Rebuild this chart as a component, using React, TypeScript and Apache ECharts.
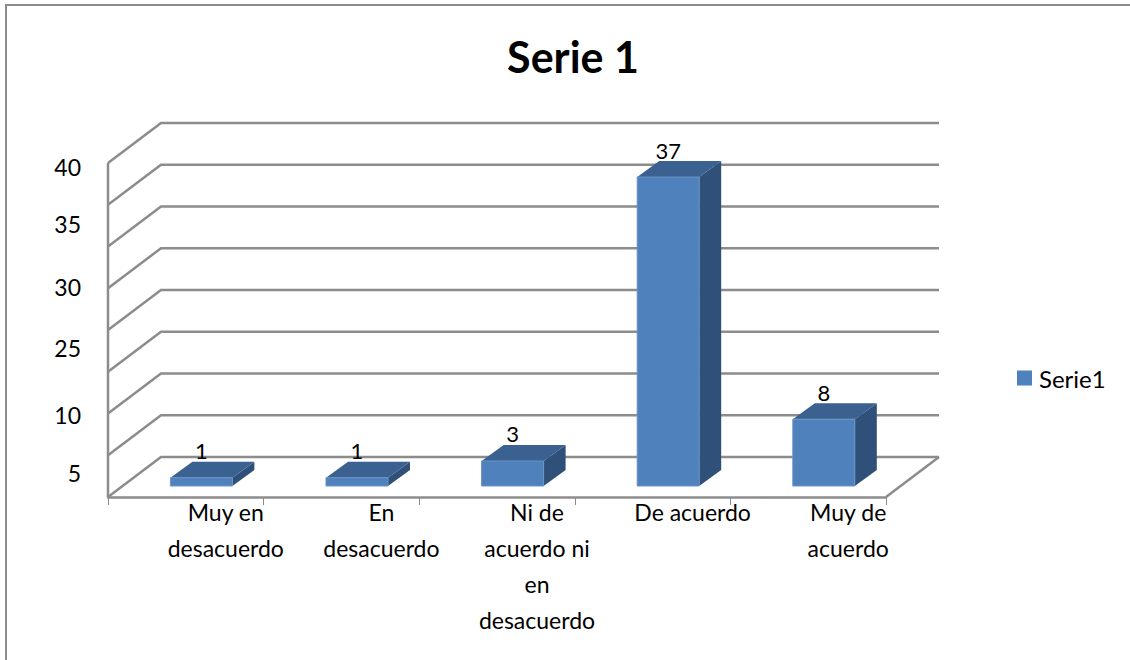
import React, { useEffect, useRef } from "react";
import * as echarts from "echarts";

const categories = ["Muy en\ndesacuerdo", "En\ndesacuerdo", "Ni de\nacuerdo ni\nen\ndesacuerdo", "De acuerdo", "Muy de\nacuerdo"];
const seriesName = "Serie1";
const values = [1, 1, 3, 37, 8];
const gridValues = [0, 5, 10, 15, 20, 25, 30, 35, 40];
// The source chart prints these tick labels at these (irregular) value heights.
const tickLabels = ["5", "10", "25", "30", "35", "40"];
const tickLabelHeights = [2.9, 9.8, 17.8, 25.1, 32.7, 39.5];

const GRAY = "#8c8c8c";
const FONT = "Lato, 'Open Sans', sans-serif";
const FLOOR_DX = 53;
const FLOOR_DY = -40;
const BAR_DX = 15.6;
const BAR_DY = -11;
const DEPTH_DX = 22;
const DEPTH_DY = -16;
const BAR_W = 62;

export default function App() {
  const ref = useRef<HTMLDivElement>(null);
  useEffect(() => {
    const chart = echarts.init(ref.current!, null, { renderer: "svg" });
    chart.setOption({
      animation: false,
      backgroundColor: "#ffffff",
      textStyle: { fontFamily: FONT },
      title: {
        text: "Serie 1",
        left: 568,
        top: 30,
        textAlign: "center",
        textStyle: { fontFamily: FONT, fontWeight: "bold", fontSize: 43, color: "#000" },
      },
      legend: {
        data: [seriesName],
        left: 1012,
        top: 361,
        itemWidth: 15,
        itemHeight: 15,
        itemGap: 0,
        icon: "rect",
        textStyle: { fontFamily: FONT, fontSize: 24, color: "#000", padding: [0, 0, 5, 2] },
      },
      grid: { left: 108, top: 163, width: 778, height: 334 },
      xAxis: {
        type: "category",
        data: categories,
        axisLine: { show: true, lineStyle: { color: GRAY, width: 2.5 } },
        axisTick: { show: true, length: 8, lineStyle: { color: GRAY, width: 1 } },
        axisLabel: {
          interval: 0,
          margin: -3,
          fontFamily: FONT,
          fontSize: 23,
          lineHeight: 36,
          color: "#000",
          align: "center",
          padding: [0, 0, 0, 80],
        },
      },
      yAxis: {
        type: "value",
        min: 0,
        max: 40,
        interval: 5,
        splitLine: { show: false },
        axisLine: { show: false },
        axisTick: { show: false },
        axisLabel: {
          show: true,
          customValues: tickLabelHeights,
          formatter: (v: number) => tickLabels[tickLabelHeights.indexOf(v)],
          margin: 27,
          fontFamily: FONT,
          fontSize: 23,
          color: "#000",
        },
      },
      graphic: [
        {
          type: "polyline",
          shape: { points: [[6, 660], [6, 5], [1130, 5]] },
          style: { stroke: GRAY, lineWidth: 2, fill: "none" },
          silent: true,
        },
      ],
      series: [
        {
          type: "custom",
          name: "walls",
          coordinateSystem: "cartesian2d",
          z: 1,
          silent: true,
          data: gridValues.map((v) => [0, v]),
          renderItem: (params: any, api: any) => {
            const cs = params.coordSys;
            const y = api.coord([0, api.value(1)])[1];
            const left = cs.x;
            const right = cs.x + cs.width;
            const style = { stroke: GRAY, lineWidth: 2.5, fill: "none" };
            const children: any[] = [
              {
                type: "polyline",
                shape: { points: [[left, y], [left + FLOOR_DX, y + FLOOR_DY], [right + FLOOR_DX, y + FLOOR_DY]] },
                style,
              },
            ];
            if (api.value(1) === 0) {
              children.push({
                type: "line",
                shape: { x1: right, y1: y, x2: right + FLOOR_DX, y2: y + FLOOR_DY },
                style,
              });
              children.push({
                type: "line",
                shape: { x1: left, y1: y, x2: left, y2: cs.y },
                style,
              });
            }
            return { type: "group", children };
          },
        },
        {
          type: "custom",
          name: seriesName,
          coordinateSystem: "cartesian2d",
          z: 2,
          silent: true,
          itemStyle: { color: "#4f81bd" },
          data: values.map((v, i) => [i, v]),
          renderItem: (_params: any, api: any) => {
            const v = api.value(1);
            const c = api.coord([api.value(0), v]);
            const b = api.coord([api.value(0), 0]);
            const x0 = c[0] + BAR_DX - BAR_W / 2;
            const x1 = x0 + BAR_W;
            const yt = c[1] + BAR_DY;
            const yb = b[1] + BAR_DY;
            return {
              type: "group",
              children: [
                {
                  type: "polygon",
                  shape: {
                    points: [[x1, yt], [x1 + DEPTH_DX, yt + DEPTH_DY], [x1 + DEPTH_DX, yb + DEPTH_DY], [x1, yb]],
                  },
                  style: { fill: "#2f5078" },
                },
                {
                  type: "polygon",
                  shape: {
                    points: [[x0, yt], [x0 + DEPTH_DX, yt + DEPTH_DY], [x1 + DEPTH_DX, yt + DEPTH_DY], [x1, yt]],
                  },
                  style: { fill: "#3a618f" },
                },
                {
                  type: "rect",
                  shape: { x: x0, y: yt, width: BAR_W, height: yb - yt },
                  style: { fill: "#4f81bd", stroke: "#6b93c6", lineWidth: 1 },
                },
                {
                  type: "text",
                  style: {
                    x: x0 + BAR_W / 2,
                    y: yt + DEPTH_DY - 11,
                    text: String(v),
                    align: "center",
                    verticalAlign: "middle",
                    font: "22px Lato",
                    fill: "#000",
                  },
                },
              ],
            };
          },
        },
      ],
    });
    return () => chart.dispose();
  }, []);
  return <div ref={ref} style={{ position: "absolute", left: 0, top: 0, width: 1130, height: 660 }} />;
}
